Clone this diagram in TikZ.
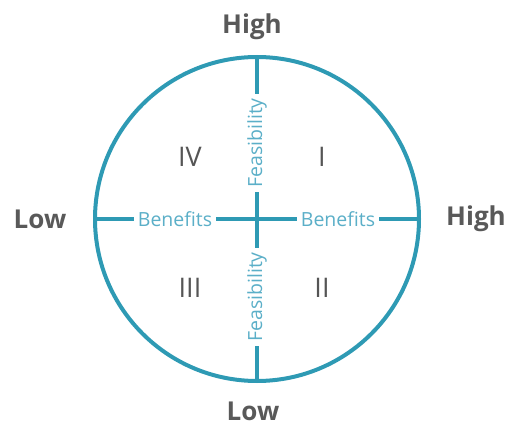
\documentclass[tikz,border=0pt]{standalone}
\usepackage{fontspec}
\setmainfont{Open Sans}
\definecolor{teal1}{HTML}{2E9AB4}
\definecolor{teal2}{HTML}{5BAFC8}
\definecolor{greytxt}{HTML}{5E5E5E}
\tikzset{
  axis/.style={draw=teal1, line width=4pt},
  axislabel/.style={fill=white, text=teal2, inner xsep=4pt, inner ysep=1pt,
    font=\fontsize{19.5}{19.5}\selectfont},
  endlabel/.style={text=greytxt!95!black, font=\fontsize{26}{26}\selectfont\bfseries},
  quadrant/.style={text=greytxt!90!black, font=\fontsize{27}{27}\selectfont}
}
\begin{document}
\begin{tikzpicture}[x=1pt,y=-1pt]
\useasboundingbox (0,0) rectangle (509,425);
\coordinate (o) at (257,219);
\draw[axis] (o) circle (162);
\coordinate (top) at (257,57);
\coordinate (bot) at (257,381);
\coordinate (lft) at (95,219);
\coordinate (rgt) at (419,219);
\draw[axis] (top) -- (bot);
\draw[axis] (lft) -- (rgt);

\node[axislabel] (benL) at (175,219) {Benefits};
\node[axislabel] (benR) at (338,219) {Benefits};
\node[axislabel, rotate=90] (feaT) at (257,143) {Feasibility};
\node[axislabel, rotate=90] (feaB) at (257,297) {Feasibility};

\node[endlabel] (highT) at (252,27) {High};
\node[endlabel] (lowB) at (253,411) {Low};
\node[endlabel] (lowL) at (40,219) {Low};
\node[endlabel] (highR) at (476,219) {High};

\node[quadrant] (q1) at (322,157) {I};
\node[quadrant] (q2) at (322,288) {II};
\node[quadrant] (q3) at (190,288) {III};
\node[quadrant] (q4) at (190,157) {IV};
\end{tikzpicture}
\end{document}
